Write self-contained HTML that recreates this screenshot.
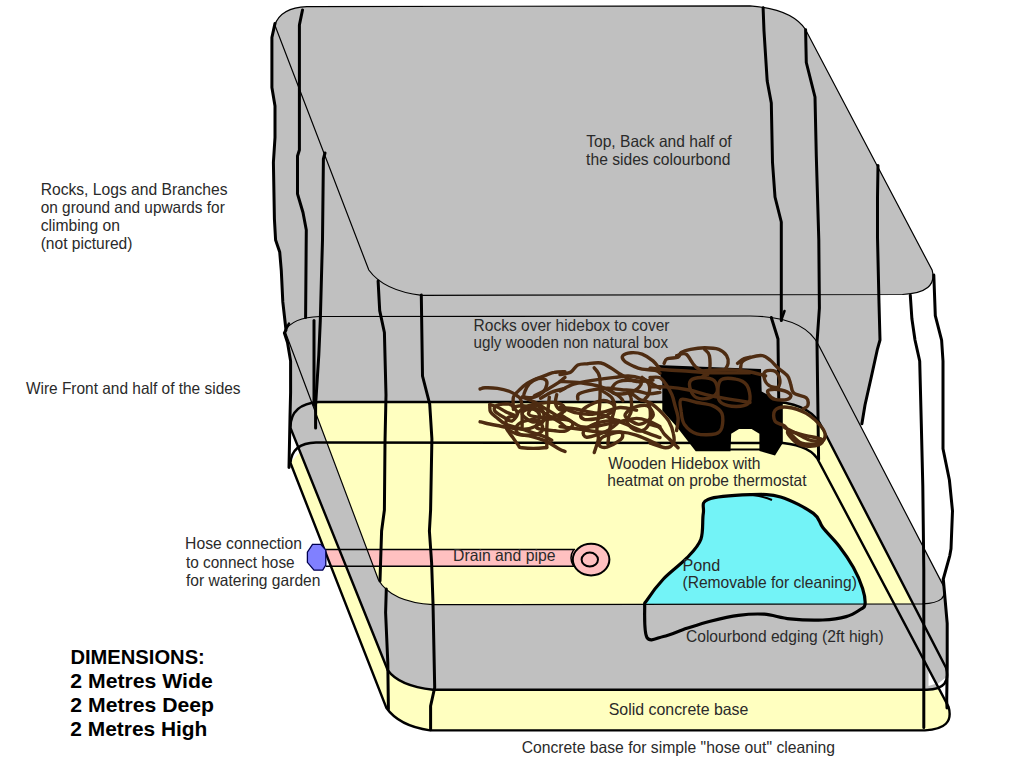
<!DOCTYPE html><html><head><meta charset="utf-8"><style>html,body{margin:0;padding:0;background:#fff;overflow:hidden}svg{display:block}text{font-family:"Liberation Sans",sans-serif;font-size:16.5px;fill:#2a2a2a}text.b{font-weight:bold;font-size:20.5px;fill:#000}</style></head><body>
<svg width="1024" height="768" viewBox="0 0 1024 768">
<defs><clipPath id="c2"><path d="M285,331.3 Q292,317.5 319.8,316.5 L750,316 Q805,316.5 818.8,345.6 L943.3,585.6 Q950,603 922.5,603.8 L433,604.7 Q391,602 378.4,579.7 Z"/></clipPath><clipPath id="cpond"><rect x="0" y="0" width="1024" height="604.2"/></clipPath></defs>
<rect width="1024" height="768" fill="#fff"/>
<g fill="#c0c0c0"><path d="M274.8,25 Q281,7.5 306.9,6.6 L750,5.8 Q792,9 805.6,29.7 L932.2,270.3 Q938,292.5 902.5,294.5 L421.9,295.3 Q384,291 368.8,270 Z"/><path d="M285,331.3 Q292,317.5 319.8,316.5 L750,316 Q805,316.5 818.8,345.6 L943.3,585.6 Q950,603 922.5,603.8 L433,604.7 Q391,602 378.4,579.7 Z"/><path d="M290.5,428 Q290,404 318.8,402 L778,402 Q812,405 822.5,428.2 L946,667.6 Q952,689 927,689.8 L433,689.8 Q399,686 387.8,670.3 Z"/><path d="M290.5,463 Q292,443 316,442.5 L783,443 Q812,446 819,461.7 L948.5,706.7 Q955,729 925,730.4 L430,730.4 Q399,726 386.3,707.8 Z"/><polygon points="275.0,23.4 271.9,37.5 271.9,87.5 275.0,106.0 275.0,137.5 273.4,162.5 274.4,218.8 275.6,240.0 279.7,251.9 281.3,270.6 282.8,301.9 286.0,330.0 284.4,333.0 287.5,342.5 290.6,361.0 290.6,392.5 290.0,417.5 289.0,467.5 400.0,467.5 400.0,23.4"/><polygon points="877.5,260.0 878.0,294.0 879.0,303.0 880.0,340.0 877.5,348.8 871.3,377.0 865.0,405.0 861.9,423.8 800.0,423.8 800.0,260.0"/><polygon points="900.0,575.0 943.3,579.0 947.2,623.3 947.2,667.6 900.0,667.6"/><rect x="300" y="260" width="500" height="170"/></g>
<path d="M290.5,463 Q292,443 316,442.5 L783,443 Q812,446 819,461.7 L948.5,706.7 Q955,729 925,730.4 L430,730.4 Q399,726 386.3,707.8 Z" fill="#ffffc0"/>
<path d="M290.5,428 Q290,404 318.8,402 L778,402 Q812,405 822.5,428.2 L946,667.6 Q952,689 927,689.8 L433,689.8 Q399,686 387.8,670.3 Z" fill="#c0c0c0"/>
<g clip-path="url(#c2)"><path d="M290.5,428 Q290,404 318.8,402 L778,402 Q812,405 822.5,428.2 L946,667.6 Q952,689 927,689.8 L433,689.8 Q399,686 387.8,670.3 Z" fill="#ffffc0"/><path d="M290.5,463 Q292,443 316,442.5 L783,443 Q812,446 819,461.7 L948.5,706.7 Q955,729 925,730.4 L430,730.4 Q399,726 386.3,707.8 Z" fill="#ffffc0"/></g>
<polygon points="290,428 300,452 290,463" fill="#fff"/>
<polygon points="928.5,670 936.5,683.5 928.5,686" fill="#fff"/><polygon points="937.5,684 946.5,677 946.5,701" fill="#fff"/>
<polygon points="324.4,549.5 339.3,549.5 346.0,566.3 330.9,566.3" fill="#ffc0c0"/><polygon points="367.0,549.5 575.0,549.5 575.0,566.3 373.4,566.3" fill="#ffc0c0"/>
<path d="M708.0,499.4 C715.8,496.3 738.0,495.1 750.1,494.7 C762.2,494.3 770.1,493.9 780.6,497.0 C791.1,500.1 806.4,508.3 813.4,513.4 C820.4,518.5 818.5,522.0 822.8,527.5 C827.1,533.0 834.1,539.6 839.2,546.2 C844.3,552.8 849.4,560.3 853.3,567.3 C857.2,574.3 860.6,582.1 862.6,588.4 C864.6,594.6 865.4,601.3 865.0,604.8 C864.6,608.3 863.4,607.5 860.3,609.5 C857.2,611.5 852.5,614.9 846.2,616.6 C840.0,618.4 832.2,619.6 822.8,620.0 C813.4,620.4 799.8,619.9 790.0,618.9 C780.2,617.9 772.8,614.8 764.2,614.2 C755.6,613.6 747.4,614.2 738.4,615.4 C729.4,616.6 718.9,619.1 710.3,621.2 C701.7,623.4 694.7,625.8 686.9,628.3 C679.1,630.8 670.0,635.0 663.4,636.5 C656.8,638.0 650.1,642.5 647.0,637.6 C643.9,632.7 644.7,613.5 644.7,607.2 C644.7,601.0 643.9,604.8 647.0,600.1 C650.1,595.4 656.8,586.0 663.4,579.0 C670.0,572.0 680.6,564.5 686.9,557.9 C693.1,551.3 698.2,546.6 700.9,539.2 C703.6,531.8 702.1,520.0 703.3,513.4 C704.5,506.8 700.2,502.5 708.0,499.4Z" fill="#73f3f7" clip-path="url(#cpond)"/>
<g fill="none" stroke="#000" stroke-width="1.2"><path d="M274.8,25 Q281,7.5 306.9,6.6 L750,5.8 Q792,9 805.6,29.7 L932.2,270.3 Q938,292.5 902.5,294.5 L421.9,295.3 Q384,291 368.8,270 Z"/><path d="M285,331.3 Q292,317.5 319.8,316.5 L750,316 Q805,316.5 818.8,345.6 L943.3,585.6 Q950,603 922.5,603.8 L433,604.7 Q391,602 378.4,579.7 Z"/></g>
<g fill="none" stroke="#000" stroke-width="2.4"><path d="M290.5,428 Q290,404 318.8,402 L778,402 Q812,405 822.5,428.2 L946,667.6 Q952,689 927,689.8 L433,689.8 Q399,686 387.8,670.3 Z"/><path d="M290.5,463 Q292,443 316,442.5 L783,443 Q812,446 819,461.7 L948.5,706.7 Q955,729 925,730.4 L430,730.4 Q399,726 386.3,707.8 Z"/></g>
<g fill="none" stroke="#000" stroke-width="3" stroke-linejoin="round" stroke-linecap="round">
<polyline points="275.0,23.4 271.9,37.5 271.9,87.5 275.0,106.0 275.0,137.5 273.4,162.5 274.4,218.8 275.6,240.0 279.7,251.9 281.3,270.6 282.8,301.9 286.0,330.0 284.4,333.0 287.5,342.5 290.6,361.0 290.6,392.5 290.0,417.5 289.0,467.5"/>
<polyline points="302.5,10.0 299.4,25.0 299.4,150.0 297.5,156.0 297.5,193.8 303.0,212.5 306.3,230.0 305.6,317.5"/>
<polyline points="325.0,153.0 323.4,159.0 322.5,240.0 321.9,261.0 320.3,320.6 318.8,355.0 315.6,405.0 315.6,428.0"/>
<polyline points="314.0,320.6 314.0,405.0"/>
<polyline points="378.1,281.0 379.7,310.6 384.4,332.5 386.0,395.0 385.0,442.0 384.4,510.0 381.6,531.0 380.0,581.0"/>
<polyline points="386.3,589.0 385.6,612.5 387.8,662.5 388.4,709.0"/>
<polyline points="421.3,295.0 422.5,376.0 429.7,404.0 431.9,438.8 430.6,510.0 429.4,531.0 431.6,562.5 433.0,603.0 434.7,687.5 430.6,706.0 430.6,729.7"/>
<polyline points="763.1,7.8 764.0,31.0 767.2,81.0 771.3,103.0 772.5,162.5 775.0,197.0 781.3,222.0 781.3,320.6"/>
<polyline points="771.3,317.5 778.0,339.0 778.8,405.0"/>
<polyline points="805.6,29.7 806.3,62.5 815.0,97.0 816.3,156.0 818.8,240.0 819.4,308.0 817.0,342.5 818.6,459.4"/>
<polyline points="878.0,165.6 877.5,197.0 877.5,237.5 879.0,303.0 880.0,340.0 877.5,348.8 871.3,377.0 865.0,405.0 861.9,423.8"/>
<polyline points="910.3,295.3 911.9,318.8 915.0,340.0 919.7,361.0 921.3,423.8 922.8,486.0 923.8,570.0 923.8,727.5"/>
<polyline points="933.8,275.0 935.3,315.6 941.6,340.0 943.0,361.0 943.0,448.8 949.4,480.0 952.5,511.0 951.0,548.8 949.8,555.6 943.3,579.0 947.2,623.3 947.2,667.6 946.7,700.0 947.0,708.0"/>
</g>
<polygon points="656.7,365.0 761.0,369.0 761.7,391.6 782.8,402.5 782.8,443.0 775.0,455.6 759.4,451.0 759.4,433.8 751.6,429.0 739.0,429.0 731.2,433.8 730.5,451.3 695.7,451.3 677.1,427.2 662.3,410.5 662.3,380.8" fill="#000"/><line x1="730" y1="449.5" x2="760" y2="449.5" stroke="#000" stroke-width="2"/>
<g fill="none" stroke="#4e2c12" stroke-width="3.4" stroke-linejoin="round" stroke-linecap="round"><path d="M480.1,389.0 C480.9,388.8 482.1,387.9 485.0,387.8 C487.9,387.7 493.2,387.8 497.4,388.4 C501.5,389.0 506.4,390.3 509.7,391.5 C513.0,392.8 515.3,394.5 517.1,395.8 C519.0,397.2 520.0,397.3 520.8,399.6 C521.7,401.8 521.9,404.9 522.1,409.4 C522.3,414.0 522.1,423.9 522.1,426.7"/><path d="M489.9,404.5 C491.2,404.9 494.7,405.7 497.4,407.0 C500.0,408.2 503.1,410.5 506.0,411.9 C508.9,413.4 514.0,414.8 514.7,415.6 C515.3,416.4 511.1,416.2 509.7,416.9 C508.4,417.5 507.2,417.7 506.6,419.3 C506.0,421.0 505.7,424.7 506.0,426.7 C506.3,428.8 507.5,430.0 508.5,431.7 C509.5,433.3 510.5,434.4 512.2,436.6 C513.8,438.9 516.7,443.4 518.4,445.3 C520.0,447.1 517.8,447.4 522.1,447.8 C526.4,448.2 540.2,448.2 544.3,447.8 C548.5,447.4 546.4,448.4 546.8,445.3 C547.2,442.2 546.6,435.2 546.8,429.2 C547.0,423.2 547.6,414.8 548.0,409.4 C548.5,404.1 549.1,399.1 549.3,397.1"/><path d="M489.9,404.5 C490.0,405.7 489.3,409.6 490.6,411.9 C491.8,414.2 494.8,416.0 497.4,418.1 C499.9,420.2 501.9,422.4 506.0,424.3 C510.1,426.1 515.7,427.2 522.1,429.2 C528.5,431.3 539.4,434.8 544.3,436.6 C549.3,438.5 550.5,439.7 551.7,440.3"/><path d="M480.1,421.8 C480.9,422.0 482.1,422.4 485.0,423.0 C487.9,423.7 493.7,424.8 497.4,425.5 C501.1,426.2 502.7,426.7 507.2,427.4 C511.8,428.0 520.0,429.3 524.6,429.2 C529.1,429.1 531.6,428.0 534.4,426.7 C537.3,425.5 540.6,422.6 541.9,421.8"/><path d="M513.4,409.4 C513.4,407.4 512.6,400.2 513.4,397.1 C514.3,394.0 516.1,393.2 518.4,390.9 C520.6,388.6 523.9,385.5 527.0,383.5 C530.1,381.4 533.6,380.0 536.9,378.5 C540.2,377.1 543.9,375.9 546.8,374.8 C549.7,373.8 551.2,372.9 554.2,372.4 C557.2,371.8 563.2,371.8 565.0,371.7"/><path d="M524.6,392.1 C525.4,389.9 527.2,385.8 529.5,383.5 C531.8,381.2 535.5,379.2 538.2,378.5 C540.8,377.9 544.1,378.7 545.6,379.8 C547.0,380.8 547.2,382.7 546.8,384.7 C546.4,386.8 545.2,390.1 543.1,392.1 C541.0,394.2 537.5,396.3 534.4,397.1 C531.4,397.9 526.2,397.9 524.6,397.1 C522.9,396.3 523.7,394.4 524.6,392.1Z"/><path d="M517.1,413.2 C518.6,412.1 522.9,408.4 525.8,407.0 C528.7,405.5 531.8,404.1 534.4,404.5 C537.1,404.9 540.2,407.4 541.9,409.4 C543.5,411.5 544.3,414.6 544.3,416.9 C544.3,419.1 543.1,421.8 541.9,423.0 C540.6,424.3 537.7,424.1 536.9,424.3"/><path d="M513.4,407.0 C514.9,406.8 518.6,405.5 522.1,405.7 C525.6,405.9 530.3,406.8 534.4,408.2 C538.6,409.6 542.7,412.1 546.8,414.4 C550.9,416.7 556.1,419.7 559.2,421.8 C562.2,423.9 564.0,425.9 565.0,426.7"/><path d="M522.1,397.1 C524.1,397.9 530.3,400.0 534.4,402.0 C538.6,404.1 542.7,407.0 546.8,409.4 C550.9,411.9 556.1,415.4 559.2,416.9 C562.2,418.3 564.0,417.9 565.0,418.1"/><path d="M556.7,394.6 C556.5,396.1 555.0,400.8 555.5,403.3 C555.9,405.7 557.6,408.2 559.2,409.4 C560.8,410.7 564.0,410.5 565.0,410.7"/><path d="M534.4,395.8 C536.5,394.8 542.7,391.9 546.8,389.7 C550.9,387.4 556.1,384.3 559.2,382.2 C562.2,380.2 564.0,378.1 565.0,377.3"/><path d="M540.6,398.3 C542.5,397.3 547.7,393.8 551.7,392.1 C555.8,390.5 562.8,389.0 565.0,388.4"/><path d="M507.2,429.2 C508.9,430.0 513.0,432.9 517.1,434.2 C521.3,435.4 527.0,435.4 532.0,436.6 C536.9,437.9 542.3,439.5 546.8,441.6 C551.3,443.6 556.1,447.4 559.2,449.0 C562.2,450.6 564.0,451.1 565.0,451.5"/><path d="M522.1,413.2 C521.9,414.6 524.1,416.7 525.8,418.1 C527.4,419.5 529.9,421.4 532.0,421.8 C534.0,422.2 536.9,421.8 538.2,420.6 C539.4,419.3 540.0,416.2 539.4,414.4 C538.8,412.5 536.5,410.3 534.4,409.4 C532.4,408.6 529.1,408.8 527.0,409.4 C525.0,410.1 522.3,411.7 522.1,413.2Z"/><path d="M660.0,369.2 C658.8,367.8 656.0,363.5 653.0,360.9 C650.0,358.4 645.7,355.5 642.1,354.1 C638.4,352.7 634.3,352.5 631.1,352.7 C627.9,353.0 624.1,354.1 622.9,355.5 C621.8,356.8 622.5,359.1 624.3,360.9 C626.1,362.8 630.9,365.0 633.9,366.4 C636.8,367.8 638.4,368.5 642.1,369.2 C645.7,369.8 652.8,369.8 655.8,370.5 C658.7,371.2 659.3,372.8 660.0,373.3"/><path d="M560.0,374.6 C561.8,374.2 568.0,373.5 570.9,371.9 C573.9,370.3 575.0,366.4 577.8,365.0 C580.5,363.7 583.5,364.0 587.4,363.7 C591.2,363.3 597.2,362.3 601.0,363.0 C604.9,363.7 607.7,366.1 610.6,367.8 C613.6,369.5 615.9,371.4 618.8,373.3 C621.8,375.1 625.4,377.4 628.4,378.7 C631.4,380.1 632.5,381.2 636.6,381.5 C640.7,381.7 650.3,380.3 653.0,380.1"/><path d="M560.0,391.0 C562.3,389.9 568.0,386.0 573.7,384.2 C579.4,382.4 587.4,381.2 594.2,380.1 C601.0,379.0 609.0,378.0 614.7,377.4 C620.4,376.7 623.8,375.8 628.4,376.0 C633.0,376.2 638.0,377.4 642.1,378.7 C646.2,380.1 650.0,382.6 653.0,384.2 C656.0,385.8 658.8,387.6 660.0,388.3"/><path d="M577.8,399.2 C578.0,398.3 576.4,395.4 579.2,393.8 C581.9,392.2 589.4,390.6 594.2,389.7 C599.0,388.8 603.3,388.3 607.9,388.3 C612.4,388.3 616.8,389.2 621.6,389.7 C626.3,390.1 632.0,390.4 636.6,391.0 C641.2,391.7 645.0,393.5 648.9,393.8 C652.8,394.0 658.2,392.6 660.0,392.4"/><path d="M560.0,381.5 C563.4,381.7 573.7,381.9 580.5,382.8 C587.4,383.7 594.9,384.9 601.0,386.9 C607.2,389.0 613.8,392.9 617.5,395.1 C621.1,397.4 622.0,399.7 622.9,400.6"/><path d="M594.2,367.8 C595.1,369.4 598.8,371.2 599.7,377.4 C600.6,383.5 600.1,396.1 599.7,404.7 C599.2,413.4 597.2,423.6 596.9,429.3 C596.7,435.0 598.8,435.0 598.3,438.9 C597.8,442.8 594.9,450.3 594.2,452.6"/><path d="M602.4,391.0 C604.0,392.2 609.9,395.1 612.0,397.9 C614.0,400.6 614.7,404.0 614.7,407.5 C614.7,410.9 612.9,414.3 612.0,418.4 C611.1,422.5 609.9,427.7 609.2,432.1 C608.6,436.4 608.1,442.3 607.9,444.4"/><path d="M628.4,391.0 C627.0,390.8 630.7,394.5 631.1,397.9 C631.6,401.3 631.8,407.7 631.1,411.6 C630.5,415.4 626.6,418.2 627.0,421.1 C627.5,424.1 631.4,427.7 633.9,429.3 C636.4,430.9 639.6,431.6 642.1,430.7 C644.6,429.8 647.6,427.1 648.9,423.9 C650.3,420.7 650.5,415.2 650.3,411.6 C650.1,407.9 649.4,404.0 647.6,402.0 C645.7,399.9 642.5,401.1 639.3,399.2 C636.2,397.4 629.8,391.3 628.4,391.0Z"/><path d="M560.0,407.5 C562.3,407.7 569.1,408.1 573.7,408.8 C578.2,409.5 582.8,410.6 587.4,411.6 C591.9,412.5 596.5,412.9 601.0,414.3 C605.6,415.7 610.2,417.9 614.7,419.8 C619.3,421.6 623.4,423.2 628.4,425.2 C633.4,427.3 639.5,430.0 644.8,432.1 C650.1,434.1 657.5,436.6 660.0,437.6"/><path d="M560.0,426.6 C563.4,427.1 573.7,428.4 580.5,429.3 C587.4,430.3 594.2,431.6 601.0,432.1 C607.9,432.5 615.9,431.6 621.6,432.1 C627.3,432.5 630.7,433.4 635.2,434.8 C639.8,436.2 644.8,438.5 648.9,440.3 C653.0,442.1 658.2,444.8 660.0,445.8"/><path d="M560.0,414.3 C561.8,415.4 567.5,419.1 570.9,421.1 C574.4,423.2 576.6,425.7 580.5,426.6 C584.4,427.5 589.6,427.1 594.2,426.6 C598.8,426.2 603.3,424.8 607.9,423.9 C612.4,423.0 616.8,422.0 621.6,421.1 C626.3,420.2 632.0,418.4 636.6,418.4 C641.2,418.4 645.0,419.8 648.9,421.1 C652.8,422.5 658.2,425.7 660.0,426.6"/><path d="M565.5,408.8 C567.3,409.5 572.3,412.0 576.4,412.9 C580.5,413.8 585.3,414.5 590.1,414.3 C594.9,414.1 600.1,412.7 605.1,411.6 C610.2,410.4 614.9,407.7 620.2,407.5 C625.4,407.2 633.9,409.7 636.6,410.2"/><path d="M642.1,377.4 C643.2,378.5 647.8,381.5 648.9,384.2 C650.1,386.9 649.6,391.3 648.9,393.8 C648.2,396.3 645.5,398.3 644.8,399.2"/><path d="M664.1,363.4 C664.6,362.7 664.8,359.8 667.2,358.8 C669.5,357.7 675.8,358.2 678.1,357.2 C680.5,356.1 679.2,353.8 681.2,352.5 C683.3,351.2 686.7,350.2 690.6,349.4 C694.5,348.6 700.0,347.8 704.7,347.8 C709.4,347.8 715.1,348.1 718.8,349.4 C722.4,350.7 725.0,353.3 726.6,355.6 C728.1,358.0 728.4,361.1 728.1,363.4 C727.9,365.8 725.5,368.6 725.0,369.7"/><path d="M676.6,355.6 C678.1,355.4 682.8,352.2 685.9,354.1 C689.1,355.9 691.7,363.2 695.3,366.6 C699.0,369.9 705.7,373.1 707.8,374.4"/><path d="M704.7,349.4 C705.5,350.4 708.6,352.0 709.4,355.6 C710.2,359.3 710.4,367.9 709.4,371.2 C708.3,374.6 704.2,375.2 703.1,375.9"/><path d="M690.6,380.6 C692.4,378.5 697.7,377.5 701.6,377.5 C705.5,377.5 711.5,378.3 714.1,380.6 C716.7,383.0 718.0,388.7 717.2,391.6 C716.4,394.4 712.8,396.8 709.4,397.8 C706.0,398.9 700.0,399.1 696.9,397.8 C693.8,396.5 691.7,392.9 690.6,390.0 C689.6,387.1 688.8,382.7 690.6,380.6Z"/><path d="M720.3,380.6 C723.2,377.2 731.5,378.3 735.9,379.1 C740.4,379.8 744.5,381.9 746.9,385.3 C749.2,388.7 750.5,396.0 750.0,399.4 C749.5,402.8 747.4,404.6 743.8,405.6 C740.1,406.7 732.3,406.7 728.1,405.6 C724.0,404.6 720.1,403.5 718.8,399.4 C717.4,395.2 717.4,384.0 720.3,380.6Z"/><path d="M681.2,399.4 C683.9,397.8 691.7,401.5 696.9,402.5 C702.1,403.5 708.3,403.8 712.5,405.6 C716.7,407.4 720.3,409.8 721.9,413.4 C723.4,417.1 722.9,424.1 721.9,427.5 C720.8,430.9 719.8,432.7 715.6,433.8 C711.5,434.8 702.1,435.3 696.9,433.8 C691.7,432.2 687.0,428.0 684.4,424.4 C681.8,420.7 681.8,416.0 681.2,411.9 C680.7,407.7 678.6,400.9 681.2,399.4Z"/><path d="M650.0,368.1 C652.6,368.4 659.1,369.2 665.6,369.7 C672.1,370.2 681.2,370.7 689.1,371.2 C696.9,371.8 702.3,372.6 712.5,372.8 C722.7,373.1 743.8,372.8 750.0,372.8"/><path d="M650.0,386.9 C652.6,386.9 659.1,386.4 665.6,386.9 C672.1,387.4 681.2,388.4 689.1,390.0 C696.9,391.6 702.3,394.2 712.5,396.2 C722.7,398.3 743.8,401.5 750.0,402.5"/><path d="M650.0,402.5 C651.6,403.8 656.2,407.2 659.4,410.3 C662.5,413.4 666.4,417.3 668.8,421.2 C671.1,425.2 672.7,430.1 673.4,433.8 C674.2,437.4 674.7,440.8 673.4,443.1 C672.1,445.5 669.5,447.8 665.6,447.8 C661.7,447.8 652.6,443.9 650.0,443.1"/><path d="M650.0,377.5 C651.6,377.5 656.8,376.5 659.4,377.5 C662.0,378.5 663.5,380.9 665.6,383.8 C667.7,386.6 670.3,391.0 671.9,394.7 C673.4,398.3 674.0,401.7 675.0,405.6 C676.0,409.5 677.9,414.0 678.1,418.1 C678.4,422.3 676.8,428.5 676.6,430.6"/><path d="M737.5,363.4 C738.5,362.7 741.7,359.8 743.8,358.8 C745.8,357.7 749.0,357.4 750.0,357.2"/><path d="M650.0,424.4 C651.6,424.9 657.0,425.9 659.4,427.5 C661.7,429.1 662.2,431.7 664.1,433.8 C665.9,435.8 668.0,437.7 670.3,440.0 C672.7,442.3 676.8,446.5 678.1,447.8"/><path d="M740.6,368.1 C740.9,367.1 740.4,363.7 742.2,361.9 C744.0,360.1 748.2,358.2 751.6,357.2 C754.9,356.1 759.4,355.1 762.5,355.6 C765.6,356.1 767.7,358.2 770.3,360.3 C772.9,362.4 775.3,365.5 778.1,368.1 C781.0,370.7 785.4,373.3 787.5,375.9 C789.6,378.5 789.6,380.9 790.6,383.8 C791.7,386.6 791.1,390.8 793.8,393.1 C796.4,395.5 803.9,395.7 806.2,397.8 C808.6,399.9 808.3,403.8 807.8,405.6 C807.3,407.4 803.9,408.2 803.1,408.8"/><path d="M765.6,371.2 C767.4,370.2 772.7,369.9 775.0,371.2 C777.3,372.6 779.2,376.5 779.7,379.1 C780.2,381.7 779.9,385.8 778.1,386.9 C776.3,387.9 771.1,386.9 768.8,385.3 C766.4,383.8 764.6,379.8 764.1,377.5 C763.5,375.2 763.8,372.3 765.6,371.2Z"/><path d="M768.8,390.0 C770.8,389.2 777.6,389.2 781.2,390.0 C784.9,390.8 789.6,393.1 790.6,394.7 C791.7,396.2 790.1,398.6 787.5,399.4 C784.9,400.2 778.1,400.2 775.0,399.4 C771.9,398.6 769.8,396.2 768.8,394.7 C767.7,393.1 766.7,390.8 768.8,390.0Z"/><path d="M775.0,410.3 C777.1,408.0 782.3,406.7 787.5,407.2 C792.7,407.7 800.5,410.1 806.2,413.4 C812.0,416.8 818.8,423.6 821.9,427.5 C825.0,431.4 825.5,434.3 825.0,436.9 C824.5,439.5 822.7,442.1 818.8,443.1 C814.8,444.2 806.2,444.7 801.6,443.1 C796.9,441.6 793.5,436.6 790.6,433.8 C787.8,430.9 787.0,428.0 784.4,425.9 C781.8,423.9 776.6,423.9 775.0,421.2 C773.4,418.6 772.9,412.7 775.0,410.3Z"/><path d="M784.4,427.5 C786.5,428.5 792.7,431.7 796.9,433.8 C801.0,435.8 805.2,438.7 809.4,440.0 C813.5,441.3 819.8,441.3 821.9,441.6"/><path d="M700.0,371.2 C703.9,371.0 715.6,369.7 723.4,369.7 C731.2,369.7 739.8,370.2 746.9,371.2 C753.9,372.3 762.5,375.2 765.6,375.9"/><path d="M565.1,409.5 C564.8,411.7 560.1,414.9 556.1,416.2 C552.2,417.5 546.0,417.6 541.5,417.3 C536.9,417.0 530.3,416.3 528.9,414.5 C527.4,412.7 531.0,408.5 532.9,406.7 C534.8,404.8 536.3,404.0 540.5,403.4 C544.7,402.8 553.9,402.0 558.0,403.0 C562.1,404.0 565.5,407.3 565.1,409.5Z"/><path d="M614.4,406.6 C615.1,409.1 610.3,413.1 607.2,415.2 C604.2,417.2 600.1,418.1 596.3,418.8 C592.5,419.4 586.9,419.9 584.3,419.3 C581.7,418.6 580.4,416.9 580.6,414.9 C580.9,412.9 582.2,409.6 585.9,407.2 C589.7,404.8 598.5,400.6 603.3,400.5 C608.0,400.4 613.8,404.2 614.4,406.6Z"/><path d="M653.3,414.7 C653.3,417.2 650.0,419.4 647.4,421.0 C644.8,422.6 641.4,425.0 637.7,424.2 C634.0,423.4 626.6,418.6 625.2,416.2 C623.9,413.8 627.7,411.4 629.5,409.8 C631.3,408.2 633.2,407.3 636.2,406.6 C639.1,405.9 644.4,404.4 647.2,405.8 C650.1,407.1 653.2,412.1 653.3,414.7Z"/><path d="M572.9,424.4 C572.8,426.3 568.7,429.8 565.8,430.9 C562.8,432.0 559.8,431.3 555.1,430.8 C550.3,430.4 539.7,429.7 537.2,428.3 C534.7,426.9 538.6,423.9 540.2,422.4 C541.8,420.8 542.4,419.6 546.8,419.2 C551.2,418.7 562.4,418.9 566.7,419.8 C571.1,420.7 573.1,422.6 572.9,424.4Z"/><path d="M619.1,420.9 C619.2,422.4 612.0,427.8 608.8,429.9 C605.7,432.1 603.8,432.5 600.1,433.8 C596.4,435.0 589.4,437.6 586.7,437.2 C583.9,436.8 582.2,433.6 583.6,431.4 C584.9,429.1 590.7,425.6 594.8,423.9 C598.9,422.1 604.1,421.4 608.2,420.9 C612.2,420.4 619.0,419.4 619.1,420.9Z"/><path d="M542.8,428.3 C542.6,430.5 541.2,432.7 537.9,433.8 C534.6,434.9 526.7,435.6 523.1,435.1 C519.5,434.6 517.0,432.7 516.2,430.9 C515.4,429.1 516.1,426.1 518.3,424.3 C520.6,422.4 526.4,420.4 529.8,419.9 C533.2,419.3 536.6,419.6 538.7,421.0 C540.9,422.4 542.9,426.2 542.8,428.3Z"/><path d="M641.3,383.5 C641.6,385.1 637.8,388.6 635.2,390.2 C632.5,391.9 629.2,393.0 625.6,393.5 C622.0,394.0 615.7,394.1 613.5,393.2 C611.2,392.2 611.0,390.0 612.0,388.0 C612.9,386.1 615.5,382.7 619.0,381.5 C622.5,380.2 629.5,380.2 633.2,380.5 C636.9,380.9 640.9,381.9 641.3,383.5Z"/><path d="M517.5,414.0 C517.0,416.0 514.0,420.4 511.9,421.0 C509.8,421.7 507.7,419.5 504.9,417.9 C502.1,416.3 496.4,413.4 495.0,411.3 C493.6,409.2 494.1,406.7 496.5,405.5 C499.0,404.3 506.4,403.6 509.5,404.2 C512.5,404.7 513.6,407.2 514.9,408.8 C516.2,410.4 518.0,412.0 517.5,414.0Z"/><path d="M622.7,436.1 C622.6,437.6 621.3,439.4 618.6,441.2 C616.0,443.1 609.9,446.3 606.9,447.2 C603.8,448.0 601.6,447.3 600.3,446.4 C599.1,445.5 598.7,443.3 599.2,441.6 C599.7,440.0 599.9,438.3 603.3,436.7 C606.6,435.1 616.1,432.1 619.3,432.0 C622.6,431.9 622.9,434.5 622.7,436.1Z"/><path d="M787.8,431.7 C789.5,430.6 800.4,434.3 806.0,435.6 C811.6,436.9 819.5,438.0 821.7,439.5 C823.9,441.0 821.6,443.6 819.0,444.7 C816.4,445.8 809.9,446.4 806.0,446.0 C802.1,445.6 798.6,444.5 795.6,442.1 C792.6,439.7 786.1,432.8 787.8,431.7Z"/></g>
<g stroke="#000" stroke-width="1.5"><line x1="325.8" y1="549.5" x2="575" y2="549.5"/><line x1="325.8" y1="566.3" x2="575" y2="566.3"/></g>
<ellipse cx="591.1" cy="559.6" rx="18.3" ry="15.8" fill="#ffc0c0" stroke="#000" stroke-width="2"/>
<ellipse cx="589.8" cy="559.6" rx="8.2" ry="7" fill="#ffc0c0" stroke="#000" stroke-width="2"/>
<g fill="none" stroke="#000" stroke-width="2.5" stroke-linecap="round"><path d="M285.5,330 L289,323.5"/><path d="M781.3,320 L784.5,311"/></g><path d="M573.5,549.8 Q568.5,558 573.5,566" fill="none" stroke="#000" stroke-width="1.5"/>
<polygon points="312.5,544.4 320.7,544.4 325.8,550.0 325.8,565.0 322.7,570.2 314.0,570.2 307.4,562.3 307.4,552.2" fill="#8080ff" stroke="#000050" stroke-width="1.3"/>
<path d="M708.0,499.4 C715.8,496.3 738.0,495.1 750.1,494.7 C762.2,494.3 770.1,493.9 780.6,497.0 C791.1,500.1 806.4,508.3 813.4,513.4 C820.4,518.5 818.5,522.0 822.8,527.5 C827.1,533.0 834.1,539.6 839.2,546.2 C844.3,552.8 849.4,560.3 853.3,567.3 C857.2,574.3 860.6,582.1 862.6,588.4 C864.6,594.6 865.4,601.3 865.0,604.8 C864.6,608.3 863.4,607.5 860.3,609.5 C857.2,611.5 852.5,614.9 846.2,616.6 C840.0,618.4 832.2,619.6 822.8,620.0 C813.4,620.4 799.8,619.9 790.0,618.9 C780.2,617.9 772.8,614.8 764.2,614.2 C755.6,613.6 747.4,614.2 738.4,615.4 C729.4,616.6 718.9,619.1 710.3,621.2 C701.7,623.4 694.7,625.8 686.9,628.3 C679.1,630.8 670.0,635.0 663.4,636.5 C656.8,638.0 650.1,642.5 647.0,637.6 C643.9,632.7 644.7,613.5 644.7,607.2 C644.7,601.0 643.9,604.8 647.0,600.1 C650.1,595.4 656.8,586.0 663.4,579.0 C670.0,572.0 680.6,564.5 686.9,557.9 C693.1,551.3 698.2,546.6 700.9,539.2 C703.6,531.8 702.1,520.0 703.3,513.4 C704.5,506.8 700.2,502.5 708.0,499.4Z" fill="none" stroke="#000" stroke-width="3.2" stroke-linejoin="round"/><path d="M753,495 Q765,497 772,500" stroke="#000" stroke-width="2" fill="none"/>
<text x="586.25" y="147" textLength="145.45" lengthAdjust="spacingAndGlyphs">Top, Back and half of</text>
<text x="586.1" y="164.6" textLength="144.31" lengthAdjust="spacingAndGlyphs">the sides colourbond</text>
<text x="40.65" y="194.6" textLength="186.94" lengthAdjust="spacingAndGlyphs">Rocks, Logs and Branches</text>
<text x="40.67" y="212.9" textLength="184.14" lengthAdjust="spacingAndGlyphs">on ground and upwards for</text>
<text x="40.65" y="231" textLength="79.4" lengthAdjust="spacingAndGlyphs">climbing on</text>
<text x="40.66" y="248.5" textLength="91.79" lengthAdjust="spacingAndGlyphs">(not pictured)</text>
<text x="25.9" y="393.6" textLength="214.66" lengthAdjust="spacingAndGlyphs">Wire Front and half of the sides</text>
<text x="473.56" y="330.6" textLength="195.92" lengthAdjust="spacingAndGlyphs">Rocks over hidebox to cover</text>
<text x="473.58" y="348" textLength="194.42" lengthAdjust="spacingAndGlyphs">ugly wooden non natural box</text>
<text x="608.2" y="468.7" textLength="152.36" lengthAdjust="spacingAndGlyphs">Wooden Hidebox with</text>
<text x="607.26" y="486.3" textLength="199.32" lengthAdjust="spacingAndGlyphs">heatmat on probe thermostat</text>
<text x="185.05" y="548.7" textLength="117.03" lengthAdjust="spacingAndGlyphs">Hose connection</text>
<text x="186.0" y="567.5" textLength="108.67" lengthAdjust="spacingAndGlyphs">to connect hose</text>
<text x="186.0" y="585.5" textLength="134.41" lengthAdjust="spacingAndGlyphs">for watering garden</text>
<text x="453.05" y="560.5" textLength="102.37" lengthAdjust="spacingAndGlyphs">Drain and pipe</text>
<text x="682.42" y="570.9" textLength="37.82" lengthAdjust="spacingAndGlyphs">Pond</text>
<text x="682.45" y="588.4" textLength="174.42" lengthAdjust="spacingAndGlyphs">(Removable for cleaning)</text>
<text x="685.96" y="642.3" textLength="197.64" lengthAdjust="spacingAndGlyphs">Colourbond edging (2ft high)</text>
<text x="608.74" y="714.9" textLength="139.67" lengthAdjust="spacingAndGlyphs">Solid concrete base</text>
<text x="521.65" y="753.1" textLength="313.28" lengthAdjust="spacingAndGlyphs">Concrete base for simple "hose out" cleaning</text>
<text x="70.42" y="663.7" textLength="134.44" lengthAdjust="spacingAndGlyphs" class="b">DIMENSIONS:</text>
<text x="70.37" y="687.8" textLength="142.33" lengthAdjust="spacingAndGlyphs" class="b">2 Metres Wide</text>
<text x="70.37" y="712" textLength="143.58" lengthAdjust="spacingAndGlyphs" class="b">2 Metres Deep</text>
<text x="70.38" y="736.3" textLength="136.97" lengthAdjust="spacingAndGlyphs" class="b">2 Metres High</text>
</svg></body></html>
